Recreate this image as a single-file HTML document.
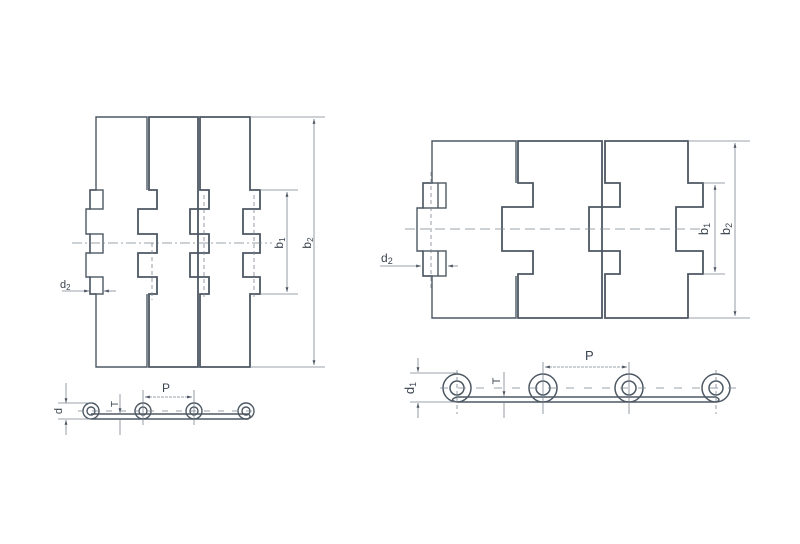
<!DOCTYPE html>
<html><head><meta charset="utf-8"><style>
html,body{margin:0;padding:0;background:#fff;}
svg{display:block}
text{font-family:"Liberation Sans",sans-serif;fill:#3a4450;}
</style></head><body>
<svg width="800" height="544" viewBox="0 0 800 544" xmlns="http://www.w3.org/2000/svg">
<defs>
<marker id="a" viewBox="0 0 10 10" refX="10" refY="5" markerWidth="6" markerHeight="6" orient="auto-start-reverse"><path d="M0,2 L10,5 L0,8 z" fill="#4a5560"/></marker>
</defs>
<g fill="none" stroke="#4d5863" stroke-width="1.4">
<!-- LEFT TOP VIEW -->
<path d="M147,190 V117 H96 V190 H90 V209 H86 V234 H90 V253 H86 V277 H90 V294 H96 V367 H147 V294"/>
<rect x="90" y="190" width="13" height="19"/><rect x="90" y="234" width="13" height="19"/><rect x="90" y="277" width="13" height="17"/>
<path d="M149,117 H198 V367 H149 V294 H157 V277 H138 V253 H157 V234 H138 V209 H157 V190 H149 Z" stroke-width="1.8"/>
<path d="M200,117 H250 V190 H260 V209 H243 V234 H260 V253 H243 V277 H260 V294 H250 V367 H200 V294 H209 V277 H190 V253 H209 V234 H190 V209 H209 V190 H200 Z" stroke-width="1.8"/>
</g>
<g stroke="#7a8590" stroke-width="0.8" fill="none">
<line x1="72" y1="243" x2="272" y2="243" stroke-dasharray="10,3,2,3"/>
<line x1="250" y1="117" x2="325" y2="117"/><line x1="250" y1="367" x2="325" y2="367"/>
<line x1="260" y1="190" x2="298" y2="190"/><line x1="260" y1="294" x2="298" y2="294"/>
<line x1="314" y1="119" x2="314" y2="365" marker-start="url(#a)" marker-end="url(#a)"/>
<line x1="287" y1="192" x2="287" y2="292" marker-start="url(#a)" marker-end="url(#a)"/>
<line x1="62" y1="291" x2="89" y2="291" marker-end="url(#a)"/>
<line x1="116" y1="291" x2="104" y2="291" marker-end="url(#a)"/>
<line x1="152" y1="243" x2="152" y2="300" stroke-dasharray="4,3"/>
<line x1="204" y1="195" x2="204" y2="300" stroke-dasharray="4,3"/>
<line x1="254" y1="195" x2="254" y2="300" stroke-dasharray="4,3"/>
</g>
<text x="283" y="243" font-size="12" transform="rotate(-90 283 243)" text-anchor="middle">b<tspan font-size="8" dy="2">1</tspan></text>
<text x="311" y="243" font-size="12" transform="rotate(-90 311 243)" text-anchor="middle">b<tspan font-size="8" dy="2">2</tspan></text>
<text x="60" y="288" font-size="11">d<tspan font-size="8" dy="2">2</tspan></text>

<!-- LEFT SIDE VIEW -->
<g fill="none" stroke="#4d5863" stroke-width="1.4">
<path d="M91,414 H248 Q252,416 248,419 H91"/>
<circle cx="91" cy="411" r="8"/><circle cx="91" cy="411" r="4"/>
<circle cx="143" cy="411" r="8"/><circle cx="143" cy="411" r="4"/>
<circle cx="194" cy="411" r="8"/><circle cx="194" cy="411" r="4"/>
<circle cx="246" cy="411" r="8"/><circle cx="246" cy="411" r="4"/>
</g>
<g stroke="#7a8590" stroke-width="0.8" fill="none">
<line x1="66" y1="383" x2="66" y2="403" marker-end="url(#a)"/><line x1="66" y1="435" x2="66" y2="420" marker-end="url(#a)"/>
<line x1="58" y1="403" x2="92" y2="403"/><line x1="58" y1="419" x2="92" y2="419"/>
<line x1="120" y1="394" x2="120" y2="413" marker-end="url(#a)"/><line x1="120" y1="435" x2="120" y2="420"/>
<line x1="143" y1="390" x2="143" y2="425"/><line x1="194" y1="390" x2="194" y2="425"/>
<line x1="145" y1="397" x2="192" y2="397" marker-start="url(#a)" marker-end="url(#a)" stroke-dasharray="3,1"/>
<line x1="78" y1="411" x2="260" y2="411" stroke-dasharray="6,8"/>
</g>
<text x="62" y="411" font-size="11" transform="rotate(-90 62 411)" text-anchor="middle">d</text>
<text x="118" y="404" font-size="10" transform="rotate(-90 118 404)" text-anchor="middle">T</text>
<text x="162" y="392" font-size="12">P</text>

<!-- RIGHT TOP VIEW -->
<g fill="none" stroke="#4d5863" stroke-width="1.4">
<path d="M516,183 V141 H432 V183 H423 V208 H417 V251 H423 V276 H432 V318 H516 V276"/>
<rect x="423" y="183" width="23" height="25"/><rect x="423" y="251" width="23" height="25"/>
<line x1="438" y1="183" x2="438" y2="208"/><line x1="438" y1="251" x2="438" y2="276"/>
<path d="M518,141 H602 V318 H518 V274 H533 V251 H502 V207 H533 V183 H518 Z" stroke-width="1.8"/>
<path d="M605,141 H688 V183 H703 V207 H676 V251 H703 V274 H688 V318 H605 V274 H620 V251 H589 V207 H620 V183 H605 Z" stroke-width="1.8"/>
</g>
<g stroke="#7a8590" stroke-width="0.8" fill="none">
<line x1="405" y1="229" x2="700" y2="229" stroke-dasharray="10,5"/>
<line x1="688" y1="141" x2="750" y2="141"/><line x1="688" y1="318" x2="750" y2="318"/>
<line x1="703" y1="183" x2="725" y2="183"/><line x1="703" y1="274" x2="725" y2="274"/>
<line x1="735" y1="143" x2="735" y2="316" marker-start="url(#a)" marker-end="url(#a)"/>
<line x1="715" y1="185" x2="715" y2="272" marker-start="url(#a)" marker-end="url(#a)"/>
<line x1="380" y1="266" x2="421" y2="266" marker-end="url(#a)"/>
<line x1="458" y1="266" x2="448" y2="266" marker-end="url(#a)"/>
<line x1="431" y1="172" x2="431" y2="290" stroke-dasharray="4,3"/>
</g>
<text x="708" y="229" font-size="13" transform="rotate(-90 708 229)" text-anchor="middle">b<tspan font-size="9" dy="2">1</tspan></text>
<text x="730" y="229" font-size="13" transform="rotate(-90 730 229)" text-anchor="middle">b<tspan font-size="9" dy="2">2</tspan></text>
<text x="381" y="262" font-size="12">d<tspan font-size="9" dy="2">2</tspan></text>

<!-- RIGHT SIDE VIEW -->
<g fill="none" stroke="#4d5863" stroke-width="1.5">
<path d="M457,397 H716 Q722,400 716,402 H457 Q448,400 457,397"/>
<circle cx="457" cy="388" r="14"/><circle cx="457" cy="388" r="7"/>
<circle cx="543" cy="388" r="14"/><circle cx="543" cy="388" r="7"/>
<circle cx="629" cy="388" r="14"/><circle cx="629" cy="388" r="7"/>
<circle cx="716" cy="388" r="14"/><circle cx="716" cy="388" r="7"/>
</g>
<g stroke="#7a8590" stroke-width="0.8" fill="none">
<line x1="418" y1="358" x2="418" y2="372" marker-end="url(#a)"/><line x1="418" y1="418" x2="418" y2="403" marker-end="url(#a)"/>
<line x1="410" y1="373" x2="458" y2="373"/><line x1="410" y1="402" x2="458" y2="402"/>
<line x1="504" y1="372" x2="504" y2="396" marker-end="url(#a)"/><line x1="504" y1="418" x2="504" y2="403"/>
<line x1="543" y1="362" x2="543" y2="414"/><line x1="629" y1="362" x2="629" y2="414"/>
<line x1="457" y1="370" x2="457" y2="414" stroke-dasharray="4,3"/><line x1="716" y1="370" x2="716" y2="414" stroke-dasharray="4,3"/>
<line x1="545" y1="367" x2="627" y2="367" marker-start="url(#a)" marker-end="url(#a)" stroke-dasharray="3,1"/>
<line x1="440" y1="388" x2="740" y2="388" stroke-dasharray="8,10"/>
</g>
<text x="414" y="388" font-size="13" transform="rotate(-90 414 388)" text-anchor="middle">d<tspan font-size="9" dy="2">1</tspan></text>
<text x="500" y="381" font-size="11" transform="rotate(-90 500 381)" text-anchor="middle">T</text>
<text x="585" y="360" font-size="13">P</text>
</svg>
</body></html>
